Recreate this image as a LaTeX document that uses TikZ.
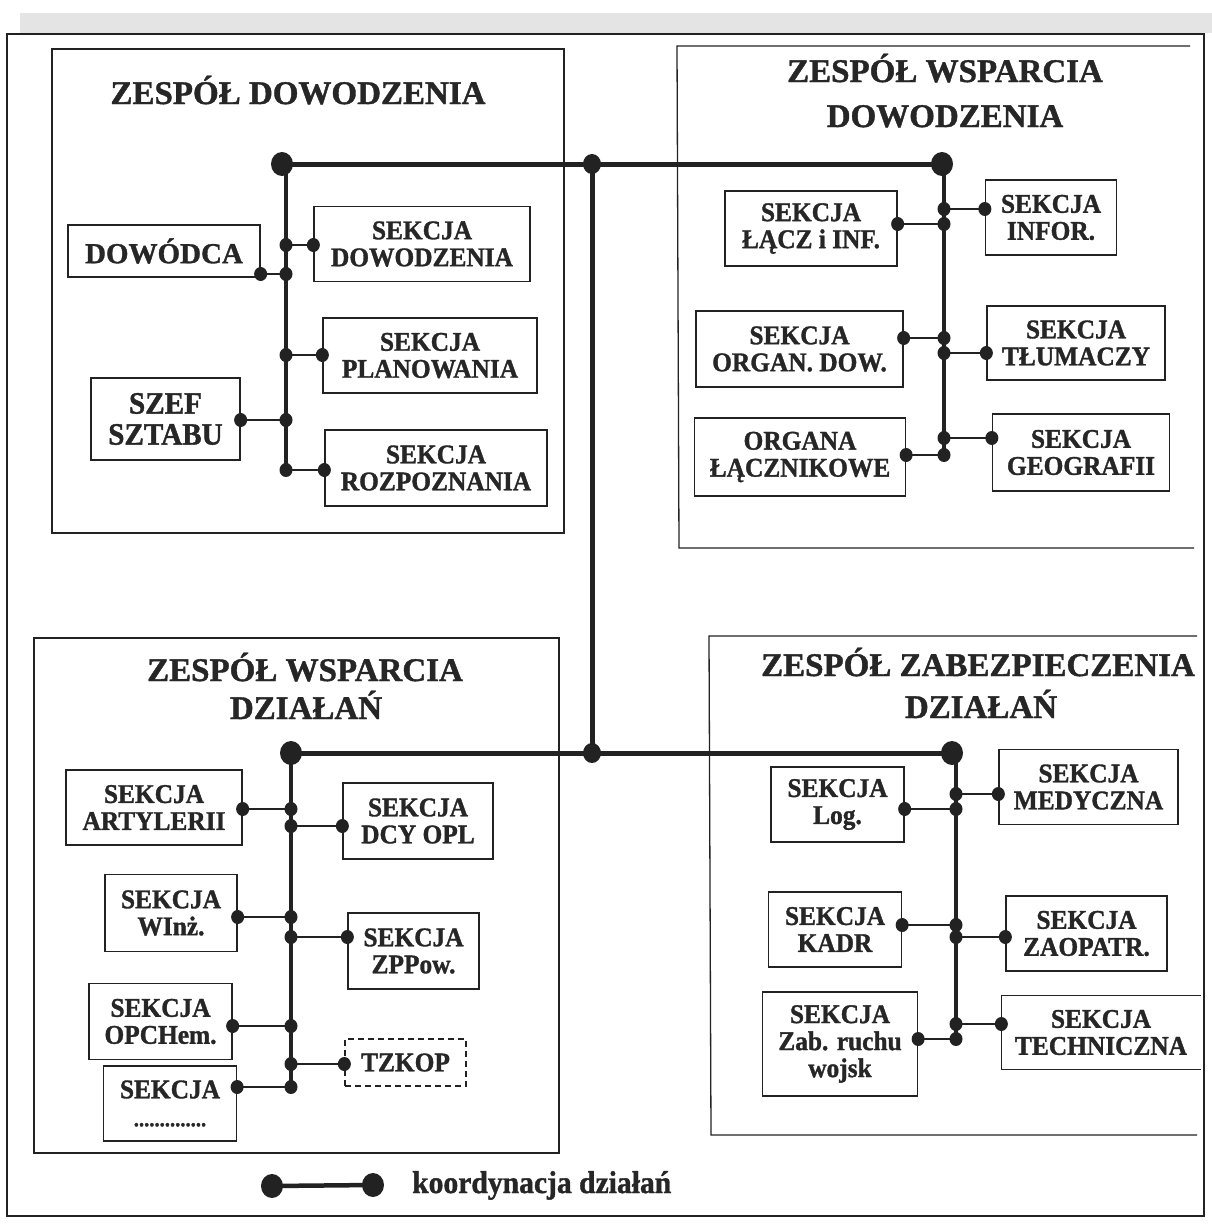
\documentclass[tikz,border=0pt]{standalone}
\usepackage{fontspec}
\setmainfont{Liberation Serif}
\newfontfamily\boxfont[FakeStretch=0.94, FakeBold=1.2]{Liberation Serif}
\newfontfamily\headfont[FakeBold=1.2]{Liberation Serif}

\definecolor{ink}{HTML}{222222}
\definecolor{txt}{HTML}{262626}
\definecolor{scan}{HTML}{E4E4E4}

\tikzset{
  sect/.style={draw=ink, line width=1.3pt, align=center, text=txt, inner sep=0pt,
    font=\boxfont\bfseries\fontsize{27}{27}\selectfont},
  opensect/.style={sect, draw=none},
  dashsect/.style={sect, dash pattern=on 6pt off 4pt},
  panel/.style={draw=ink, line width=1.3pt},
  heading/.style={anchor=base, text=txt, inner sep=0pt,
    font=\headfont\bfseries\fontsize{33}{40}\selectfont},
  mainbus/.style={draw=ink, line width=5pt},
  bus/.style={draw=ink, line width=4pt},
  link/.style={draw=ink, line width=2pt},
}

% small and large junction dots
\newcommand\pinS[1]{\fill[ink] (#1) ellipse [x radius=6.5pt, y radius=7pt];}
\newcommand\pinL[1]{\fill[ink] (#1) ellipse [x radius=11pt, y radius=12pt];}
% side link from a box to a bus point: #1 anchor, #2 box, #3 bus point
\newcommand\tieup[3]{\draw[link] (#2.#1 |- #3) -- (#3); \pinS{#2.#1 |- #3}\pinS{#3}}

\begin{document}
\begin{tikzpicture}[x=1pt, y=-1pt]
\useasboundingbox (0,0) rectangle (1212,1224);
\fill[white] (0,0) rectangle (1212,1224);
\fill[scan] (20,13) rectangle (1212,33);

% outer frame
\draw[panel] (7,34) rectangle (1204,1216);

% four team panels
\draw[panel] (52,49) rectangle (564,533);
\draw[panel] (1190,46) -- (677,46) -- (679,548) -- (1194,548);
\draw[panel] (34,638) rectangle (559,1153);
\draw[panel] (1197,636) -- (709,636) -- (711,1135) -- (1197,1135);

% panel headings
\node[heading] (hTL)  at (298,104) {ZESPÓŁ DOWODZENIA};
\node[heading] (hTRa) at (945,82)  {ZESPÓŁ WSPARCIA};
\node[heading] (hTRb) at (945,127) {DOWODZENIA};
\node[heading] (hBLa) at (305,681) {ZESPÓŁ WSPARCIA};
\node[heading] (hBLb) at (306,719) {DZIAŁAŃ};
\node[heading] (hBRa) at (978,676) {ZESPÓŁ ZABEZPIECZENIA};
\node[heading] (hBRb) at (981,718) {DZIAŁAŃ};

% ---- boxes: ZESPÓŁ DOWODZENIA
\node[sect, minimum width=192pt, minimum height=52pt,
  font=\headfont\bfseries\fontsize{29}{29}\selectfont] (dowodca) at (164,251) {DOWÓDCA};
\node[sect, minimum width=216pt, minimum height=75pt] (sdow)   at (422,244) {SEKCJA\\DOWODZENIA};
\node[sect, minimum width=214pt, minimum height=75pt] (splan)  at (430,355.5) {SEKCJA\\PLANOWANIA};
\node[sect, minimum width=149pt, minimum height=82pt,
  font=\boxfont\bfseries\fontsize{31}{31}\selectfont] (szef) at (165.5,419) {SZEF\\SZTABU};
\node[sect, minimum width=222pt, minimum height=76pt] (sroz)   at (436,468) {SEKCJA\\ROZPOZNANIA};

% ---- boxes: ZESPÓŁ WSPARCIA DOWODZENIA
\node[sect, minimum width=172pt, minimum height=75pt] (lacz)   at (811,228.5) {SEKCJA\\ŁĄCZ i INF.};
\node[sect, minimum width=131pt, minimum height=75pt] (infor)  at (1051,217.5) {SEKCJA\\INFOR.};
\node[sect, minimum width=207pt, minimum height=76pt] (orgdow) at (799.5,349) {SEKCJA\\ORGAN. DOW.};
\node[sect, minimum width=178pt, minimum height=74pt] (tlum)   at (1076,343) {SEKCJA\\TŁUMACZY};
\node[sect, minimum width=211pt, minimum height=78pt] (organa) at (800,457) {ORGANA\\ŁĄCZNIKOWE};
\node[sect, minimum width=177pt, minimum height=77pt] (geog)   at (1081,452.5) {SEKCJA\\GEOGRAFII};

% ---- boxes: ZESPÓŁ WSPARCIA DZIAŁAŃ
\node[sect, minimum width=176pt, minimum height=75pt] (art)    at (154,807.5) {SEKCJA\\ARTYLERII};
\node[sect, minimum width=150pt, minimum height=76pt] (dcy)    at (418,821) {SEKCJA\\DCY OPL};
\node[sect, minimum width=132pt, minimum height=77pt] (winz)   at (171,913) {SEKCJA\\WInż.};
\node[sect, minimum width=131pt, minimum height=76pt] (zpp)    at (413.5,951) {SEKCJA\\ZPPow.};
\node[sect, minimum width=143pt, minimum height=76pt] (opch)   at (160.5,1021.5) {SEKCJA\\OPCHem.};
\node[dashsect, minimum width=121pt, minimum height=47pt] (tzkop) at (405.5,1062.5) {TZKOP};
\node[sect, minimum width=133pt, minimum height=75pt] (sekdots) at (170,1103.5)
  {SEKCJA\\[1pt]{\fontsize{22}{22}\selectfont ..............}};

% ---- boxes: ZESPÓŁ ZABEZPIECZENIA DZIAŁAŃ
\node[sect, minimum width=133pt, minimum height=75pt] (slog)   at (837.5,804.5) {SEKCJA\\Log.};
\node[sect, minimum width=179pt, minimum height=75pt] (smed)   at (1088.5,787) {SEKCJA\\MEDYCZNA};
\node[sect, minimum width=133pt, minimum height=75pt] (skadr)  at (835,929.5) {SEKCJA\\KADR};
\node[sect, minimum width=161pt, minimum height=75pt] (szaop)  at (1086.5,933.5) {SEKCJA\\ZAOPATR.};
\node[sect, minimum width=155pt, minimum height=104pt] (szab)  at (840,1044) {SEKCJA\\Zab. ruchu\\wojsk};
\node[opensect, minimum width=198pt, minimum height=73pt] (stech) at (1101,1032.5) {SEKCJA\\TECHNICZNA};
\draw[ink, line width=1.3pt] (stech.north east) -- (stech.north west) -- (stech.south west) -- (stech.south east);

% ---- coordination network
\coordinate (hubTL) at (282,164);
\coordinate (hubTM) at (592,164);
\coordinate (hubTR) at (942,164);
\coordinate (hubBL) at (291,753);
\coordinate (hubBM) at (592,753);
\coordinate (hubBR) at (952,753);

\draw[mainbus] (hubTL) -- (hubTR);
\draw[mainbus] (hubTM) -- (hubBM);
\draw[mainbus] (hubBL) -- (hubBR);

% team buses
\coordinate (tlEnd) at (286,470);
\coordinate (trEnd) at (944,456);
\coordinate (blEnd) at (291,1087);
\coordinate (brEnd) at (956,1040);
\draw[bus] (286,164) -- (tlEnd);
\draw[bus] (944,164) -- (trEnd);
\draw[bus] (291,753) -- (blEnd);
\draw[bus] (956,753) -- (brEnd);

% bus points
\coordinate (p1) at (286,274);
\coordinate (p2) at (286,245);
\coordinate (p3) at (286,355);
\coordinate (p4) at (286,420);
\coordinate (p5) at (286,470);

\coordinate (q1) at (944,224);
\coordinate (q2) at (944,209);
\coordinate (q3) at (944,338);
\coordinate (q4) at (944,353);
\coordinate (q5) at (944,455);
\coordinate (q6) at (944,438);

\coordinate (r1) at (291,809);
\coordinate (r2) at (291,826);
\coordinate (r3) at (291,917);
\coordinate (r4) at (291,937);
\coordinate (r5) at (291,1026);
\coordinate (r6) at (291,1064);
\coordinate (r7) at (291,1087);

\coordinate (s1) at (956,809);
\coordinate (s2) at (956,794);
\coordinate (s3) at (956,925);
\coordinate (s4) at (956,937);
\coordinate (s5) at (956,1039);
\coordinate (s6) at (956,1024);

\tieup{east}{dowodca}{p1}
\tieup{west}{sdow}{p2}
\tieup{west}{splan}{p3}
\tieup{east}{szef}{p4}
\tieup{west}{sroz}{p5}

\tieup{east}{lacz}{q1}
\tieup{west}{infor}{q2}
\tieup{east}{orgdow}{q3}
\tieup{west}{tlum}{q4}
\tieup{east}{organa}{q5}
\tieup{west}{geog}{q6}

\tieup{east}{art}{r1}
\tieup{west}{dcy}{r2}
\tieup{east}{winz}{r3}
\tieup{west}{zpp}{r4}
\tieup{east}{opch}{r5}
\tieup{west}{tzkop}{r6}
\tieup{east}{sekdots}{r7}

\tieup{east}{slog}{s1}
\tieup{west}{smed}{s2}
\tieup{east}{skadr}{s3}
\tieup{west}{szaop}{s4}
\tieup{east}{szab}{s5}
\tieup{west}{stech}{s6}

% hub dots
\pinL{hubTL}\pinL{hubTR}
\pinL{hubBL}\pinL{hubBR}
\fill[ink] (hubTM) ellipse [x radius=9pt, y radius=10pt];
\fill[ink] (hubBM) ellipse [x radius=9pt, y radius=10pt];

% legend
\coordinate (legA) at (272,1186);
\coordinate (legB) at (373,1185);
\draw[draw=ink, line width=4.5pt] (legA) -- (legB);
\pinL{legA}\pinL{legB}
\node[anchor=base west, inner sep=0pt, text=txt,
  font=\boxfont\bfseries\fontsize{31.5}{31.5}\selectfont] (legtxt) at (412,1193) {koordynacja działań};
\end{tikzpicture}
\end{document}
